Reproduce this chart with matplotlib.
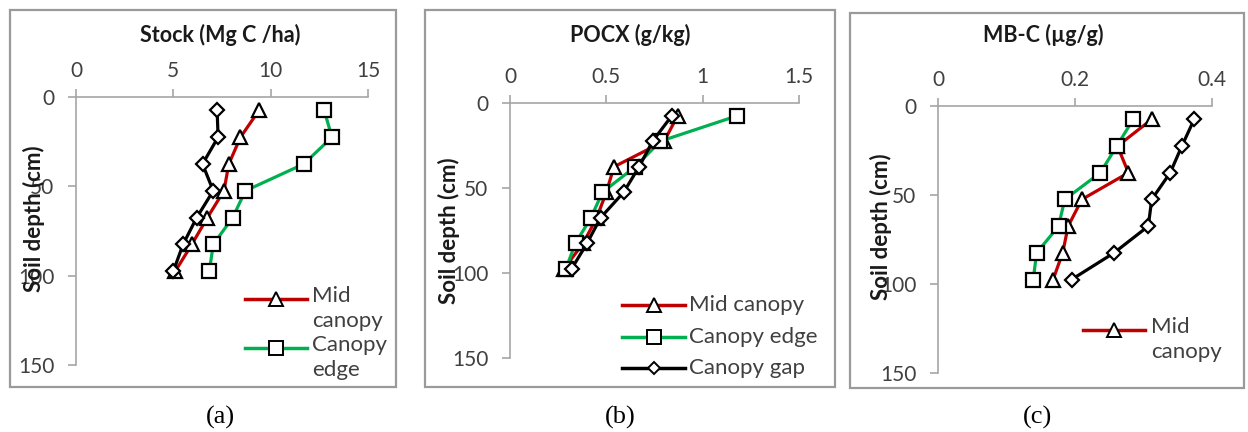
import matplotlib
matplotlib.use("Agg")
import matplotlib.pyplot as plt
from matplotlib.lines import Line2D
from matplotlib.patches import Rectangle

depth = [7.5, 22.5, 37.5, 52.5, 67.5, 82.5, 97.5]

# (a) Stock (Mg C /ha)
stock_mid = [9.4, 8.45, 7.85, 7.6, 6.75, 5.95, 5.1]
stock_edge = [12.75, 13.15, 11.7, 8.7, 8.05, 7.05, 6.85]
stock_gap = [7.25, 7.3, 6.5, 7.05, 6.2, 5.5, 5.0]

# (b) POCX (g/kg)
pocx_mid = [0.87, 0.80, 0.54, 0.50, 0.45, 0.38, 0.28]
pocx_edge = [1.18, 0.78, 0.65, 0.48, 0.42, 0.34, 0.29]
pocx_gap = [0.84, 0.74, 0.67, 0.59, 0.47, 0.40, 0.32]

# (c) MB-C (µg/g)
mbc_mid = [0.312, 0.262, 0.278, 0.21, 0.19, 0.182, 0.168]
mbc_edge = [0.285, 0.261, 0.237, 0.185, 0.176, 0.144, 0.139]
mbc_gap = [0.374, 0.356, 0.339, 0.312, 0.307, 0.257, 0.195]

titles = ["Stock (Mg C /ha)", "POCX (g/kg)", "MB-C (\u00b5g/g)"]
xlims = [(0, 15), (0, 1.5), (0, 0.4)]
xticks = [[0, 5, 10, 15], [0, 0.5, 1, 1.5], [0, 0.2, 0.4]]
xticklabels = [["0", "5", "10", "15"], ["0", "0.5", "1", "1.5"], ["0", "0.2", "0.4"]]
yticks = [0, 50, 100, 150]
captions = ["(a)", "(b)", "(c)"]
series_names = ["Mid canopy", "Canopy edge", "Canopy gap"]

RED = "#C00000"
GREEN = "#00B050"
GRAY = "#A6A6A6"
TXT = "#404040"

W, H = 1248, 432
fig = plt.figure(figsize=(W / 100, H / 100), dpi=100)
fig.patch.set_facecolor("white")

def fx(px):
    return px / W

def fy(py):
    return 1 - py / H

# axes pixel boxes: left, right, top, bottom
boxes = [(76, 368, 97, 365), (510, 799, 103, 358), (938, 1212, 106, 373)]
frames = [(10, 396, 10, 387), (425, 835, 10, 387), (850, 1244, 13, 388)]
ylabel_pos = [(34, 219), (449, 231), (881, 227)]
title_pos = [(220, 35), (630, 35), (1043, 35)]
caption_pos = [(220, 417), (620, 417), (1037, 417)]

data = [
    (stock_mid, stock_edge, stock_gap),
    (pocx_mid, pocx_edge, pocx_gap),
    (mbc_mid, mbc_edge, mbc_gap),
]

FONT = "Lato"

for i in range(3):
    fl, fr, ft, fb = frames[i]
    fig.patches.append(Rectangle((fx(fl), fy(fb)), fx(fr - fl), (fb - ft) / H,
                                 transform=fig.transFigure, fill=False,
                                 edgecolor="#9A9A9A", linewidth=1.6, zorder=0))
    l, r, t, b = boxes[i]
    ax = fig.add_axes([fx(l), fy(b), fx(r - l), (b - t) / H])
    ax.set_facecolor("none")
    mid, edge, gap = data[i]
    ax.plot(mid, depth, color=RED, lw=2.3, marker="^", ms=10, mfc="white",
            mec="black", mew=1.6, zorder=3)
    ax.plot(edge, depth, color=GREEN, lw=2.3, marker="s", ms=10, mfc="white",
            mec="black", mew=1.6, zorder=3)
    ax.plot(gap, depth, color="black", lw=2.3, marker="D", ms=7.2, mfc="white",
            mec="black", mew=1.6, zorder=4)
    ax.set_xlim(*xlims[i])
    ax.set_ylim(150, 0)
    ax.xaxis.tick_top()
    ax.set_xticks(xticks[i])
    ax.set_xticklabels(xticklabels[i])
    ax.set_yticks(yticks)
    for s in ["bottom", "right"]:
        ax.spines[s].set_visible(False)
    for s in ["top", "left"]:
        ax.spines[s].set_color(GRAY)
        ax.spines[s].set_linewidth(1.2)
    ax.tick_params(axis="both", colors=GRAY, length=5.5, width=1.2,
                   labelcolor=TXT, labelsize=15)
    ax.tick_params(axis="x", pad=6)
    ax.tick_params(axis="y", pad=10)
    for lab in ax.get_xticklabels() + ax.get_yticklabels():
        lab.set_fontfamily(FONT)
    fig.text(fx(title_pos[i][0]), fy(title_pos[i][1]), titles[i], ha="center",
             va="center", fontsize=15.5, fontweight="bold", family=FONT,
             color="#1a1a1a")
    fig.text(fx(ylabel_pos[i][0]), fy(ylabel_pos[i][1]), "Soil depth (cm)",
             rotation=90, ha="center", va="center", fontsize=16,
             fontweight="bold", family=FONT, color="#1a1a1a")
    fig.text(fx(caption_pos[i][0]), fy(caption_pos[i][1]), captions[i],
             ha="center", va="center", fontsize=19, family="Liberation Serif",
             color="black")

# Legends (Excel-style, partially truncated in panels a and c)
styles = [
    dict(color=RED, marker="^", ms=10),
    dict(color=GREEN, marker="s", ms=10.5),
    dict(color="black", marker="D", ms=6.5),
]

def legend_entry(x0, x1, y, k, text, tx):
    st = styles[k]
    fig.add_artist(Line2D([fx(x0), fx(x1)], [fy(y), fy(y)],
                          transform=fig.transFigure, color=st["color"], lw=2.5))
    fig.add_artist(Line2D([fx((x0 + x1) / 2)], [fy(y)], transform=fig.transFigure,
                          marker=st["marker"], ms=st["ms"], mfc="white",
                          mec="black", mew=1.4, lw=0))
    if "\n" in text:
        fig.text(fx(tx), fy(y - 13), text, ha="left", va="top",
                 fontsize=16, family=FONT, color=TXT, linespacing=1.3)
    else:
        fig.text(fx(tx), fy(y), text, ha="left", va="center",
                 fontsize=16, family=FONT, color=TXT)

# panel a
legend_entry(245, 307, 299, 0, "Mid\ncanopy", 312)
legend_entry(245, 307, 348, 1, "Canopy\nedge", 312)
# panel b
legend_entry(622, 685, 305, 0, "Mid canopy", 689)
legend_entry(622, 685, 337, 1, "Canopy edge", 689)
legend_entry(622, 685, 368, 2, "Canopy gap", 689)
# panel c
legend_entry(1083, 1145, 330, 0, "Mid\ncanopy", 1151)

fig.savefig("out.png", dpi=100, facecolor="white")
